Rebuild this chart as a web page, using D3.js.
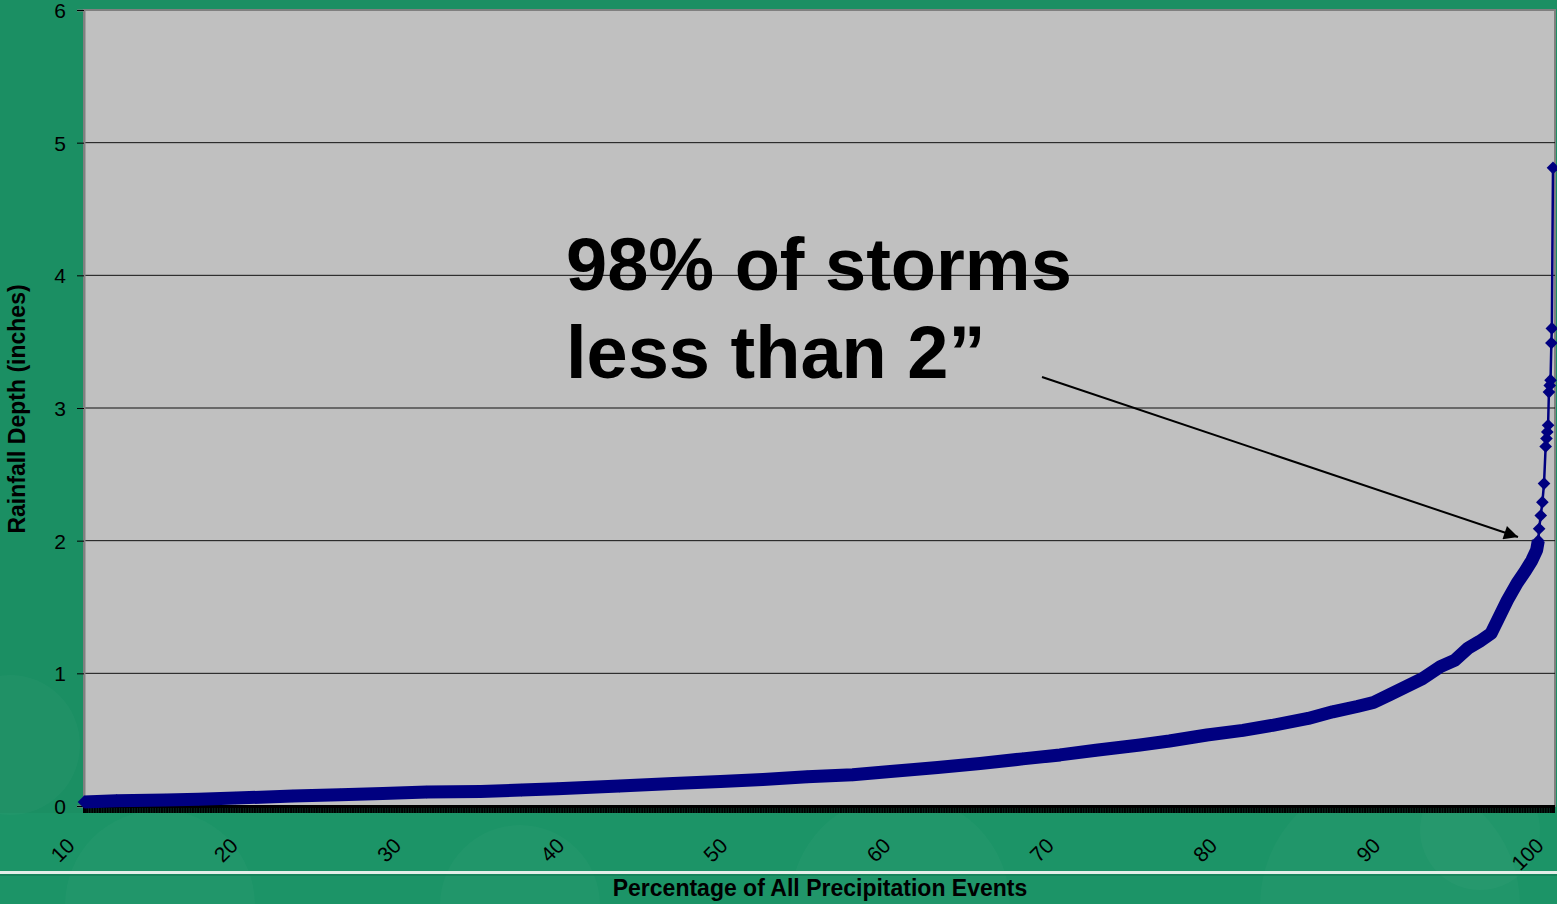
<!DOCTYPE html>
<html>
<head>
<meta charset="utf-8">
<script src="https://cdn.jsdelivr.net/npm/d3@7"></script>
<style>
  body { margin: 0; background: #1b8f63; }
  svg { display: block; font-family: "Liberation Sans", Arial, sans-serif; }
</style>
</head>
<body>
<svg width="1557" height="904"></svg>
<script>
// percentile of all precipitation events (x) and rainfall depth in inches (y)
const percentiles = [10, 12, 15, 17, 19.3, 22.8, 25.7, 28.3, 31, 34.3, 36.8, 39, 42.8, 46.1, 49, 51.6,
    54.3, 57.1, 59.4, 62.3, 64.9, 67.5, 69.8, 72, 74.7, 76.5, 78.8, 81, 82.9, 85, 86.5, 88, 89, 90,
    91, 92, 93.1, 94, 94.8, 95.5, 96.2, 96.6, 97.2, 97.8, 98.3, 98.7, 99.0, 99.1,
    99.15, 99.25, 99.35, 99.45, 99.55, 99.6, 99.65, 99.7, 99.75, 99.8, 99.85, 99.9, 99.93, 100];
const depths = [0.03, 0.04, 0.045, 0.05, 0.06, 0.075, 0.085, 0.095, 0.105, 0.11, 0.12, 0.13, 0.15, 0.17, 0.185, 0.2,
    0.22, 0.235, 0.26, 0.29, 0.32, 0.355, 0.385, 0.42, 0.46, 0.49, 0.535, 0.57, 0.61, 0.66, 0.71, 0.75, 0.78, 0.84,
    0.9, 0.96, 1.05, 1.1, 1.19, 1.24, 1.3, 1.4, 1.55, 1.68, 1.77, 1.85, 1.93, 2.0,
    2.09, 2.19, 2.29, 2.43, 2.71, 2.77, 2.82, 2.87, 3.12, 3.17, 3.21, 3.49, 3.6, 4.81];

const xTicks = [10, 20, 30, 40, 50, 60, 70, 80, 90, 100];
const yTicks = [0, 1, 2, 3, 4, 5, 6];
const noteLines = ["98% of storms", "less than 2\u201d"];

const data = percentiles.map((p, i) => ({ p: p, d: depths[i] }));

const svg = d3.select("svg");

// background decoration
svg.append("rect").attr("width", 1557).attr("height", 904).attr("fill", "#1b8f63");
svg.append("rect").attr("y", 813).attr("width", 1557).attr("height", 91).attr("fill", "#1c9467");
const blobs = [[10, 745, 70], [160, 905, 95], [520, 905, 80], [900, 905, 110], [1390, 905, 130], [1480, 830, 60]];
svg.selectAll(".blob").data(blobs).enter().append("circle")
    .attr("cx", d => d[0]).attr("cy", d => d[1]).attr("r", d => d[2])
    .attr("fill", "#ffffff").attr("opacity", 0.025);
svg.append("rect").attr("y", 871).attr("width", 1557).attr("height", 3).attr("fill", "#e3eee8");
svg.append("rect").attr("y", 874).attr("width", 1557).attr("height", 2).attr("fill", "#137a53").attr("opacity", 0.6);

const x = d3.scaleLinear().domain([10, 100]).range([84, 1553]);
const y = d3.scaleLinear().domain([0, 6]).range([806, 10]);

// plot area
svg.append("rect")
    .attr("x", 84).attr("y", 10).attr("width", 1471).attr("height", 796)
    .attr("fill", "#c0c0c0").attr("stroke", "#808080").attr("stroke-width", 2);

// horizontal gridlines
svg.append("g")
    .selectAll("line")
    .data(yTicks.filter(t => t > 0 && t < 6))
    .enter().append("line")
    .attr("x1", 84).attr("x2", 1555)
    .attr("y1", d => y(d)).attr("y2", d => y(d))
    .attr("stroke", "#111").attr("stroke-width", 1);

// y axis
const yAxis = svg.append("g")
    .attr("transform", "translate(84,0)")
    .call(d3.axisLeft(y).tickValues(yTicks).tickFormat(d3.format("d")).tickSize(7).tickPadding(11));
yAxis.select(".domain").attr("stroke", "#808080").attr("stroke-width", 2);
yAxis.selectAll(".tick line").attr("stroke", "#000");
yAxis.selectAll(".tick text")
    .attr("fill", "#000").attr("dy", "0.36em")
    .style("font-size", "21px").style("font-family", "Liberation Sans, Arial, sans-serif");

// x axis: dense category ticks form the dark band
const xAxis = svg.append("g")
    .attr("transform", "translate(0,806)")
    .call(d3.axisBottom(x).tickValues(d3.range(10, 100.01, 0.1)).tickSize(7).tickFormat(""));
xAxis.select(".domain").attr("stroke", "#000").attr("stroke-width", 3);
xAxis.selectAll(".tick line").attr("stroke", "#000").attr("stroke-width", 1.6);

svg.append("g")
    .selectAll("text")
    .data(xTicks)
    .enter().append("text")
    .attr("transform", d => `translate(${x(d) - 8},847) rotate(-45)`)
    .attr("text-anchor", "end")
    .style("font-size", "21px")
    .attr("fill", "#000")
    .text(d => d);

// series: thick band where points crowd together, thin line + diamonds in the tail
const line = d3.line().x(d => x(d.p)).y(d => y(d.d));
svg.append("path")
    .datum(data.filter(d => d.p <= 99.1))
    .attr("fill", "none")
    .attr("stroke", "#000080")
    .attr("stroke-width", 13)
    .attr("stroke-linejoin", "round")
    .attr("d", line);
svg.append("path")
    .datum(data)
    .attr("fill", "none")
    .attr("stroke", "#000080")
    .attr("stroke-width", 2.5)
    .attr("d", line);
svg.append("g")
    .selectAll("path")
    .data(data)
    .enter().append("path")
    .attr("transform", d => `translate(${x(d.p)},${y(d.d)}) rotate(45)`)
    .attr("d", d3.symbol(d3.symbolSquare, 80))
    .attr("fill", "#000080");

// annotation
svg.append("text")
    .attr("x", 566).attr("y", 290)
    .style("font-size", "74px").style("font-weight", "bold")
    .attr("fill", "#000")
    .selectAll("tspan")
    .data(noteLines)
    .enter().append("tspan")
    .attr("x", 566)
    .attr("dy", (d, i) => i === 0 ? 0 : 88)
    .text(d => d);

svg.append("defs").append("marker")
    .attr("id", "arrow")
    .attr("viewBox", "0 0 10 10")
    .attr("refX", 10).attr("refY", 5)
    .attr("markerWidth", 9).attr("markerHeight", 7)
    .attr("markerUnits", "strokeWidth")
    .attr("orient", "auto")
    .append("path").attr("d", "M0,0L10,5L0,10z").attr("fill", "#000");

svg.append("line")
    .attr("x1", 1042).attr("y1", 377)
    .attr("x2", 1518).attr("y2", 537)
    .attr("stroke", "#000").attr("stroke-width", 2)
    .attr("marker-end", "url(#arrow)");

// axis titles
svg.append("text")
    .attr("x", 820).attr("y", 896)
    .attr("text-anchor", "middle")
    .style("font-size", "23px").style("font-weight", "bold")
    .attr("fill", "#000")
    .text("Percentage of All Precipitation Events");

svg.append("text")
    .attr("transform", "translate(25,409) rotate(-90)")
    .attr("text-anchor", "middle")
    .style("font-size", "23px").style("font-weight", "bold")
    .attr("fill", "#000")
    .text("Rainfall Depth (inches)");
</script>
</body>
</html>
